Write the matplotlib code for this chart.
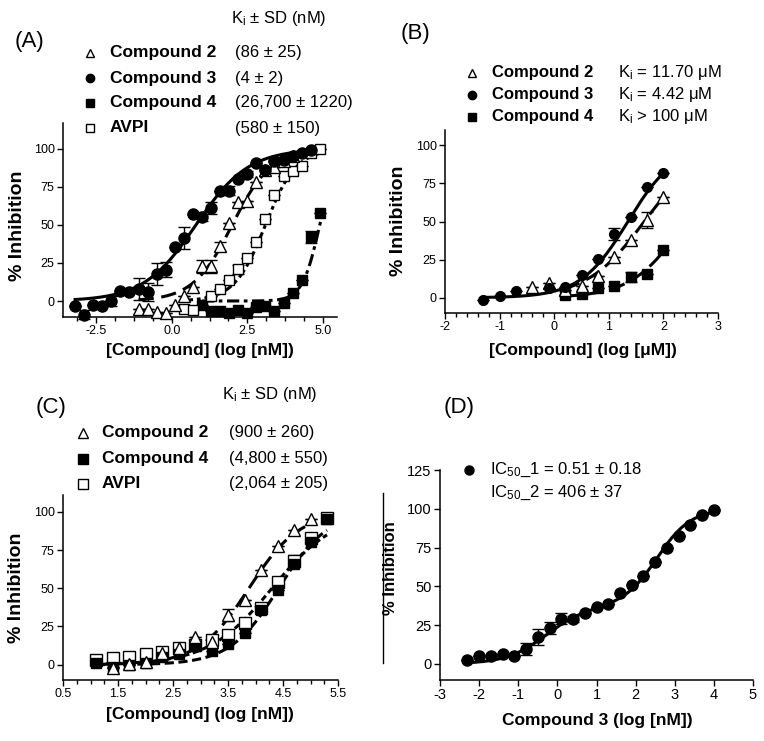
import numpy as np
import matplotlib
matplotlib.use('Agg')
import matplotlib.pyplot as plt
from matplotlib.lines import Line2D
from matplotlib.ticker import MultipleLocator

plt.rcParams['font.family'] = ['Liberation Sans', 'DejaVu Sans']
plt.rcParams['axes.unicode_minus'] = False
plt.rcParams['mathtext.fontset'] = 'custom'
plt.rcParams['mathtext.rm'] = 'Liberation Sans'
plt.rcParams['mathtext.it'] = 'Liberation Sans:italic'

W, H = 764, 741

# ---- panel A data (log nM) ----
a_x3 = [-3.2, -2.9, -2.6, -2.3, -2.0, -1.7, -1.4, -1.1, -0.8, -0.5, -0.2, 0.1, 0.4, 0.7,
        1.0, 1.3, 1.6, 1.9, 2.2, 2.5, 2.8, 3.1, 3.4, 3.7, 4.0, 4.3, 4.6]
a_y3 = [-3, -9, -2.5, -3, 0, 6.6, 5.7, 8, 5.7, 17.7, 20.5, 35.5, 41.5, 57,
        55.4, 61, 72.4, 72.4, 80, 83.4, 90.7, 86, 92, 93, 95, 97, 99]
a_e3 = [0, 3, 0, 0, 3, 0, 0, 7, 6, 7, 5, 0, 7, 0,
        3, 4, 0, 3, 0, 2, 0, 0, 0, 0, 0, 0, 0]
a_x2 = [-1.1, -0.8, -0.5, -0.2, 0.1, 0.4, 0.7, 1.0, 1.3, 1.6, 1.9, 2.2, 2.5, 2.8, 3.1, 3.4, 3.7, 4.0]
a_y2 = [-5, -5, -7, -8, -2.6, 3, 9.5, 22.7, 22.7, 36, 51.4, 65, 65.8, 78, 86, 88, 92, 95]
a_e2 = [0, 0, 0, 0, 0, 0, 0, 4, 4, 3, 0, 0, 0, 0, 0, 0, 0, 0]
a_xv = [0.4, 0.7, 1.3, 1.6, 1.9, 2.2, 2.5, 2.8, 3.1, 3.4, 3.7, 4.0, 4.3, 4.6, 4.9]
a_yv = [-5, -6, 3.3, 8, 14, 21, 28, 38.6, 53.6, 69.5, 82, 85.6, 89, 97, 100]
a_ev = [0, 0, 0, 0, 0, 3, 0, 0, 0, 0, 0, 0, 0, 0, 0]
a_x4 = [1.0, 1.3, 1.6, 1.9, 2.2, 2.5, 2.8, 3.1, 3.4, 3.7, 4.0, 4.3, 4.6, 4.9]
a_y4 = [-2.6, -6.4, -6.4, -7.7, -6, -7.7, -3.8, -3, -6.4, -1.5, 5, 14, 42, 57.6]
a_e4 = [0, 0, 0, 0, 0, 0, 0, 0, 0, 0, 0, 0, 4, 0]

# ---- panel B data (log uM) ----
b_x3 = [-1.3, -1.0, -0.7, -0.1, 0.2, 0.5, 0.8, 1.1, 1.4, 1.7, 2.0]
b_y3 = [-1.3, 1.1, 4.2, 6.6, 7, 14.7, 25.6, 41.6, 53, 72.6, 82]
b_e3 = [0, 0, 0, 0, 0, 0, 0, 4, 0, 0, 0]
b_x2 = [-0.4, -0.1, 0.2, 0.5, 0.8, 1.1, 1.4, 1.7, 2.0]
b_y2 = [7, 9.6, 5, 7.7, 14.2, 26.7, 38, 51, 66]
b_e2 = [0, 0, 0, 0, 0, 0, 0, 5, 0]
b_x4 = [0.2, 0.5, 0.8, 1.1, 1.4, 1.7, 2.0]
b_y4 = [2, 2.6, 6.6, 7.7, 13.6, 15.8, 31.5]
b_e4 = [0, 0, 0, 0, 3, 0, 0]

# ---- panel C data (log nM) ----
c_x2 = [1.4, 1.7, 2.0, 2.3, 2.6, 2.9, 3.2, 3.5, 3.8, 4.1, 4.4, 4.7, 5.0]
c_y2 = [-2.4, 0.4, 2, 7.5, 11, 18, 15, 32.7, 42.5, 62, 77.6, 88, 95]
c_e2 = [0, 0, 0, 0, 0, 0, 0, 4, 0, 0, 0, 0, 0]
c_x = [1.1, 1.4, 1.7, 2.0, 2.3, 2.6, 2.9, 3.2, 3.5, 3.8, 4.1, 4.4, 4.7, 5.0, 5.3]
c_yv = [3, 4.2, 5.3, 7, 8.6, 11, 13, 16, 19.5, 27.6, 37, 54, 68, 83, 96]
c_ev = [0, 0, 0, 0, 0, 0, 0, 0, 0, 0, 0, 0, 4, 0, 0]
c_y4 = [1.3, -1.3, 0, 1.3, 5.3, 7, 12, 9.2, 13.6, 21, 36, 48.7, 65.6, 80, 95]

# ---- panel D data (log nM) ----
d_x = [-2.3, -2.0, -1.7, -1.4, -1.1, -0.8, -0.5, -0.2, 0.1, 0.4, 0.7,
       1.0, 1.3, 1.6, 1.9, 2.2, 2.5, 2.8, 3.1, 3.4, 3.7, 4.0]
d_y = [2.6, 4.8, 4.8, 6.5, 4.8, 9.7, 17.3, 23, 29, 29, 32.5,
       36.8, 38.3, 45.9, 50.9, 56.7, 65.4, 74.7, 82.3, 89.6, 95.7, 98.9]
d_e = [0, 0, 0, 0, 0, 4, 5, 4, 3.5, 2, 0,
       0, 0, 0, 0, 0, 0, 0, 0, 0, 0, 0]


def sigmoid(x, x0, h, top=100.0):
    return top / (1 + 10 ** ((x0 - x) * h))


fig = plt.figure(figsize=(W / 100, H / 100), dpi=100)


def px_axes(l, r, t, b):
    # axes box from pixel edges
    return fig.add_axes([l / W, 1 - b / H, (r - l) / W, (b - t) / H])


def style(ax, fs):
    for s in ['top', 'right']:
        ax.spines[s].set_visible(False)
    for s in ['left', 'bottom']:
        ax.spines[s].set_linewidth(1.1)
    ax.tick_params(which='major', direction='out', length=4, width=1.0, labelsize=fs, pad=2)
    ax.tick_params(which='minor', direction='out', length=3, width=1.0)


def ftext(x, y, s, **kw):
    fig.text(x / W, 1 - y / H, s, va='center', **kw)


def fmark(x, y, m, fc, ms=6):
    fig.add_artist(Line2D([x / W], [1 - y / H], marker=m, ms=ms, mfc=fc, mec='black',
                          mew=1.0, ls='none', transform=fig.transFigure))


def pts(ax, x, y, e, m, fc, ms):
    ax.errorbar(x, y, yerr=e, fmt=m, ms=ms, mfc=fc, mec='black', mew=1.0,
                ecolor='black', elinewidth=1.0, capsize=4, capthick=1.0, clip_on=False, zorder=3)


def ylab(ax, xr, fs=14):
    ax.set_ylabel('% Inhibition', fontsize=fs, fontweight='bold')
    ax.yaxis.set_label_coords(xr / W, 0.5, transform=fig.transFigure)
    ax.yaxis.label.set_y(0.5)


LW = 2.2
dash_long = (0, (5, 2.5))
dash_short = (0, (3, 1.5))
dash_dot = (0, (3, 1.3, 1.2, 1.3))

# ================= (A) =================
ax = px_axes(63, 337, 123, 317)
style(ax, 9)
xs = np.linspace(-3.2, 4.7, 200)
ax.plot(xs, sigmoid(xs, 0.8, 0.5), color='black', lw=LW)
xs = np.linspace(-1.1, 4.0, 200)
ax.plot(xs, sigmoid(xs, 2.0, 0.67), color='black', lw=LW, ls=dash_long)
xs = np.linspace(0.4, 4.9, 200)
ax.plot(xs, sigmoid(xs, 3.1, 0.85), color='black', lw=LW, ls=dash_dot)
xs = np.linspace(1.0, 5.0, 200)
ax.plot(xs, sigmoid(xs, 4.9, 1.5), color='black', lw=LW, ls=(0, (4, 1.5, 1.2, 1.5)))
pts(ax, a_x4, a_y4, a_e4, 's', 'black', 7)
pts(ax, a_xv, a_yv, a_ev, 's', 'white', 7)
pts(ax, a_x2, a_y2, a_e2, '^', 'white', 8.5)
pts(ax, a_x3, a_y3, a_e3, 'o', 'black', 8)
ax.set_xlim(-3.6, 5.47)
ax.set_ylim(-10.5, 117)
ax.set_xticks([-2.5, 0, 2.5, 5.0])
ax.set_xticklabels(['-2.5', '0.0', '2.5', '5.0'])
ax.xaxis.set_minor_locator(MultipleLocator(0.625))
ax.set_yticks([0, 25, 50, 75, 100])
ax.spines['left'].set_bounds(-10.5, 117)
ax.set_xlabel('[Compound] (log [nM])', fontsize=12.5, fontweight='bold')
ax.xaxis.set_label_coords(200 / W, 1 - 343 / H, transform=fig.transFigure)
ax.set_ylabel('% Inhibition', fontsize=14, fontweight='bold')
ax.yaxis.set_label_coords(26 / W, 1 - 226 / H, transform=fig.transFigure)

ftext(15, 42, '(A)', fontsize=16)
ftext(231, 18, r'K$_\mathrm{i}$ $\pm$ SD (nM)', fontsize=12)
a_names = ['Compound 2', 'Compound 3', 'Compound 4', 'AVPI']
a_vals = ['(86 ± 25)', '(4 ± 2)', '(26,700 ± 1220)', '(580 ± 150)']
a_marks = [('^', 'white'), ('o', 'black'), ('s', 'black'), ('s', 'white')]
for i, (n, v, (m, fc)) in enumerate(zip(a_names, a_vals, a_marks)):
    y = 53 + i * 25
    fmark(90, y, m, fc)
    ftext(110, y, n, fontsize=12.5, fontweight='bold')
    ftext(235, y, v, fontsize=12)

# ================= (B) =================
ax = px_axes(445, 718, 130, 313)
style(ax, 9)
xs = np.linspace(-1.3, 2.0, 200)
ax.plot(xs, sigmoid(xs, 1.35, 1.0), color='black', lw=LW)
xs = np.linspace(0.2, 2.0, 200)
ax.plot(xs, sigmoid(xs, 1.65, 0.82), color='black', lw=LW, ls=dash_long)
ax.plot(xs, sigmoid(xs, 2.4, 0.9), color='black', lw=LW, ls=dash_long)
pts(ax, b_x4, b_y4, b_e4, 's', 'black', 7)
pts(ax, b_x2, b_y2, b_e2, '^', 'white', 8.5)
pts(ax, b_x3, b_y3, b_e3, 'o', 'black', 7)
ax.set_xlim(-2, 3)
ax.set_ylim(-10, 110)
ax.set_xticks([-2, -1, 0, 1, 2, 3])
ax.xaxis.set_minor_locator(MultipleLocator(0.2))
ax.set_yticks([0, 25, 50, 75, 100])
ax.set_xlabel('[Compound] (log [μM])', fontsize=12.5, fontweight='bold')
ax.xaxis.set_label_coords(583 / W, 1 - 343 / H, transform=fig.transFigure)
ax.set_ylabel('% Inhibition', fontsize=14, fontweight='bold')
ax.yaxis.set_label_coords(407 / W, 1 - 221 / H, transform=fig.transFigure)

ftext(401, 33, '(B)', fontsize=16)
b_names = ['Compound 2', 'Compound 3', 'Compound 4']
b_vals = [r'K$_\mathrm{i}$ = 11.70 μM', r'K$_\mathrm{i}$ = 4.42 μM', r'K$_\mathrm{i}$ > 100 μM']
b_marks = [('^', 'white'), ('o', 'black'), ('s', 'black')]
for i, (n, v, (m, fc)) in enumerate(zip(b_names, b_vals, b_marks)):
    y = 73 + i * 22
    fmark(472, y, m, fc)
    ftext(492, y, n, fontsize=12, fontweight='bold')
    ftext(618, y, v, fontsize=12)

# ================= (C) =================
ax = px_axes(63, 338, 495, 680)
style(ax, 9)
xs = np.linspace(1.1, 5.0, 200)
ax.plot(xs, sigmoid(xs, 3.88, 0.95), color='black', lw=LW, ls=dash_long)
xs = np.linspace(1.1, 5.3, 200)
ax.plot(xs, sigmoid(xs, 4.42, 0.98), color='black', lw=LW, ls=dash_short)
ax.plot(xs, sigmoid(xs, 4.3, 0.75), color='black', lw=LW, ls=(0, (2, 1.2)))
pts(ax, c_x, c_yv, c_ev, 's', 'white', 8)
pts(ax, c_x, c_y4, [0] * len(c_x), 's', 'black', 7)
pts(ax, c_x2, c_y2, c_e2, '^', 'white', 9)
ax.set_xlim(0.5, 5.5)
ax.set_ylim(-10, 111)
ax.set_xticks([0.5, 1.5, 2.5, 3.5, 4.5, 5.5])
ax.xaxis.set_minor_locator(MultipleLocator(0.25))
ax.set_yticks([0, 25, 50, 75, 100])
ax.set_xlabel('[Compound] (log [nM])', fontsize=12.5, fontweight='bold')
ax.xaxis.set_label_coords(200 / W, 1 - 707 / H, transform=fig.transFigure)
ax.set_ylabel('% Inhibition', fontsize=14, fontweight='bold')
ax.yaxis.set_label_coords(25 / W, 1 - 588 / H, transform=fig.transFigure)

ftext(36, 407, '(C)', fontsize=16)
ftext(222, 395, r'K$_\mathrm{i}$ $\pm$ SD (nM)', fontsize=12)
c_names = ['Compound 2', 'Compound 4', 'AVPI']
c_vals = ['(900 ± 260)', '(4,800 ± 550)', '(2,064 ± 205)']
c_marks = [('^', 'white'), ('s', 'black'), ('s', 'white')]
for i, (n, v, (m, fc)) in enumerate(zip(c_names, c_vals, c_marks)):
    y = 433 + i * 25.5
    fmark(83, y, m, fc, ms=7)
    ftext(102, y, n, fontsize=12.5, fontweight='bold')
    ftext(229, y, v, fontsize=12)

# ================= (D) =================
ax = px_axes(440, 753, 470, 680)
style(ax, 10.5)
xs = np.linspace(-2.3, 4.0, 300)
frac1 = 37
ax.plot(xs, sigmoid(xs, -0.29, 0.85, frac1) + sigmoid(xs, 2.55, 1.0, 100 - frac1),
        color='black', lw=LW)
pts(ax, d_x, d_y, d_e, 'o', 'black', 8)
ax.set_xlim(-3, 5)
ax.set_ylim(-10.4, 125)
ax.set_xticks(range(-3, 6))
ax.set_yticks([0, 25, 50, 75, 100, 125])
ax.set_xlabel('Compound 3 (log [nM])', fontsize=12.5, fontweight='bold')
ax.xaxis.set_label_coords(597 / W, 1 - 713 / H, transform=fig.transFigure)
ax.set_ylabel('% Inhibition', fontsize=12, fontweight='bold')
ax.yaxis.set_label_coords(398 / W, 1 - 568 / H, transform=fig.transFigure)

ftext(444, 408, '(D)', fontsize=16)
fmark(469, 470, 'o', 'black', ms=6.5)
ftext(490, 470, r'IC$_{50}$_1 = 0.51 ± 0.18', fontsize=12)
ftext(490, 493, r'IC$_{50}$_2 = 406 ± 37', fontsize=12)
# stray vertical rule left of panel D
fig.add_artist(Line2D([383 / W, 383 / W], [1 - 493 / H, 1 - 663 / H], color='black', lw=1.0,
                      transform=fig.transFigure))

fig.savefig('out.png', dpi=100)
